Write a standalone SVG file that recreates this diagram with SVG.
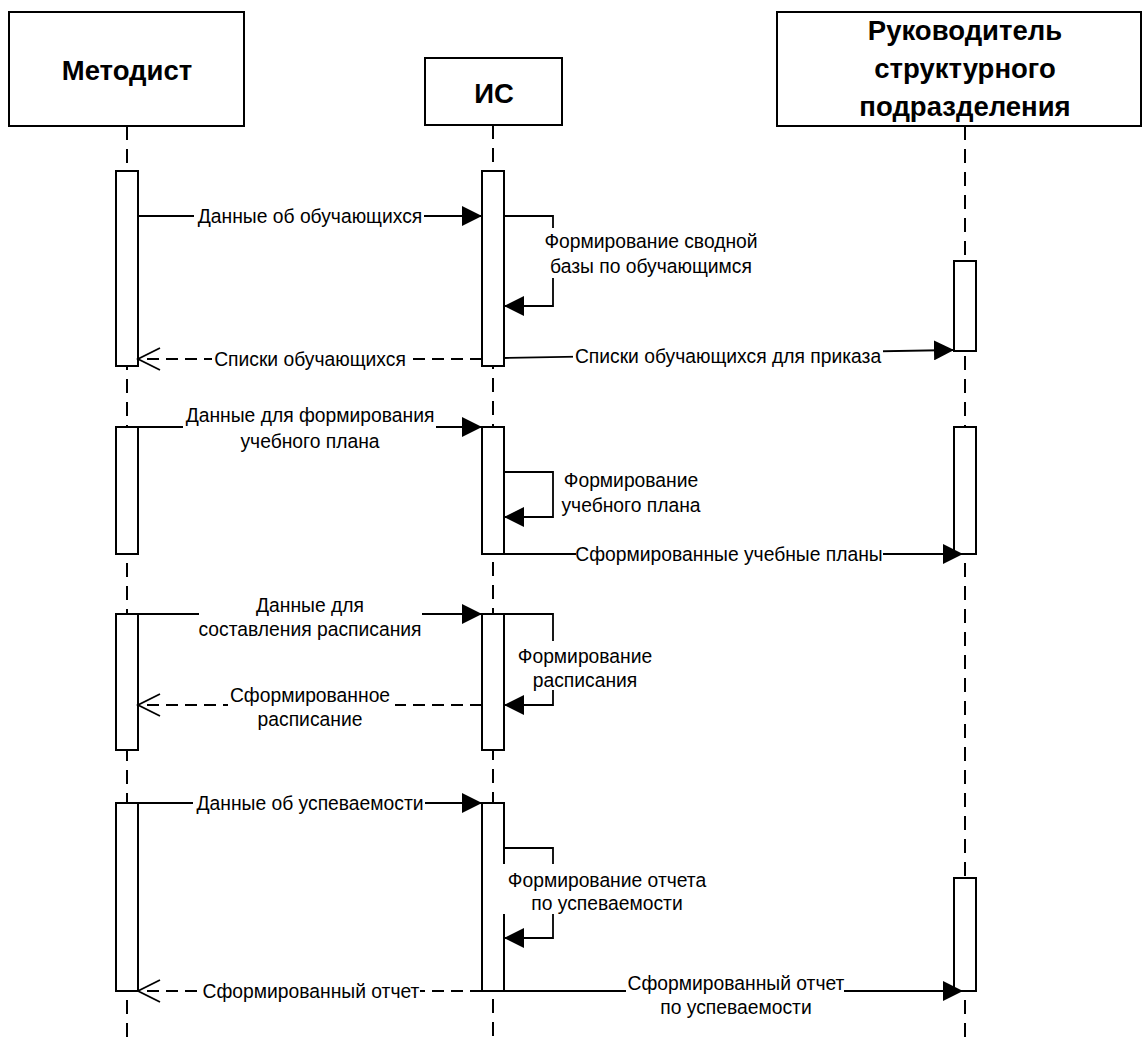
<svg xmlns="http://www.w3.org/2000/svg" width="1143" height="1039" viewBox="0 0 1143 1039">
<style>
.box{fill:#fff;stroke:#000;stroke-width:2}
.act{fill:#fff;stroke:#000;stroke-width:2}
.life{fill:none;stroke:#000;stroke-width:2;stroke-dasharray:14 9}
.msg{fill:none;stroke:#000;stroke-width:1.8;marker-end:url(#fa)}
.ret{fill:none;stroke:#000;stroke-width:1.8;stroke-dasharray:12 7;marker-end:url(#oa)}
.bg{fill:#fff;stroke:none}
.hd{font-family:"Liberation Sans",Arial,sans-serif;font-weight:bold;font-size:27.5px;text-anchor:middle;fill:#000}
.lb{font-family:"Liberation Sans",Arial,sans-serif;font-size:19.3px;text-anchor:middle;fill:#000}
</style>
<defs>
<marker id="fa" viewBox="0 0 20 20" refX="20" refY="10" markerWidth="20" markerHeight="20" markerUnits="userSpaceOnUse" orient="auto"><path d="M0,0 L20,10 L0,20 z" fill="#000"/></marker>
<marker id="oa" viewBox="-24 -13 26 26" refX="0" refY="0" markerWidth="26" markerHeight="26" markerUnits="userSpaceOnUse" orient="auto"><path d="M-22,-11 L0,0 L-22,11" fill="none" stroke="#000" stroke-width="1.8"/></marker>
</defs>
<rect width="1143" height="1039" fill="#fff"/>

<g id="metodist">
<line class="life" x1="127" y1="126" x2="127" y2="1039"/>
<rect class="box" x="9" y="12" width="235" height="114"/>
<text class="hd" x="127" y="80">Методист</text>
<rect class="act" x="116" y="171" width="22" height="195"/>
<rect class="act" x="116" y="427" width="22" height="127"/>
<rect class="act" x="116" y="614" width="22" height="136"/>
<rect class="act" x="116" y="803" width="22" height="188"/>
</g>

<g id="is">
<line class="life" x1="493" y1="125" x2="493" y2="1039"/>
<rect class="box" x="425" y="58" width="137" height="67"/>
<text class="hd" x="494" y="103">ИС</text>
<rect class="act" x="482" y="171" width="22" height="195"/>
<rect class="act" x="482" y="427" width="22" height="127"/>
<rect class="act" x="482" y="614" width="22" height="136"/>
<rect class="act" x="482" y="803" width="22" height="188"/>
</g>

<g id="rukovoditel">
<line class="life" x1="965" y1="126" x2="965" y2="1039"/>
<rect class="box" x="777" y="12" width="364" height="114"/>
<text class="hd" x="965" y="40">Руководитель</text>
<text class="hd" x="965" y="78">структурного</text>
<text class="hd" x="965" y="116">подразделения</text>
<rect class="act" x="954" y="261" width="22" height="90"/>
<rect class="act" x="954" y="427" width="22" height="127"/>
<rect class="act" x="954" y="878" width="22" height="113"/>
</g>

<g id="connectors">
<path class="msg" d="M138,216 H482"/>
<path class="msg" d="M504,216 H553 V306 H504"/>
<path class="ret" d="M482,359 H138"/>
<path class="msg" d="M504,358 L954,350"/>

<path class="msg" d="M138,427 H482"/>
<path class="msg" d="M504,472 H553 V517 H504"/>
<path class="msg" d="M504,554 H963"/>

<path class="msg" d="M138,614 H482"/>
<path class="msg" d="M504,614 H553 V705 H504"/>
<path class="ret" d="M482,705 H138"/>

<path class="msg" d="M138,803 H482"/>
<path class="msg" d="M504,848 H553 V938 H504"/>
<path class="ret" d="M482,991 H138"/>
<path class="msg" d="M504,991 H963"/>

<g id="labels">
<rect class="bg" x="194" y="206" width="230" height="20"/>
<text class="lb" x="310" y="223">Данные об обучающихся</text>

<rect class="bg" x="536" y="228" width="230" height="50"/>
<text class="lb" x="651" y="248">Формирование сводной</text>
<text class="lb" x="651" y="273">базы по обучающимся</text>

<rect class="bg" x="212" y="349" width="196" height="20"/>
<text class="lb" x="310" y="366">Списки обучающихся</text>

<rect class="bg" x="573" y="345" width="310" height="20"/>
<text class="lb" x="728" y="363">Списки обучающихся для приказа</text>

<rect class="bg" x="183" y="404" width="253" height="48"/>
<text class="lb" x="310" y="422">Данные для формирования</text>
<text class="lb" x="310" y="448">учебного плана</text>

<text class="lb" x="631" y="487">Формирование</text>
<text class="lb" x="631" y="512">учебного плана</text>

<rect class="bg" x="576" y="544" width="307" height="20"/>
<text class="lb" x="729" y="561">Сформированные учебные планы</text>

<rect class="bg" x="199" y="594" width="223" height="46"/>
<text class="lb" x="310" y="612">Данные для</text>
<text class="lb" x="310" y="636">составления расписания</text>

<rect class="bg" x="513" y="641" width="144" height="49"/>
<text class="lb" x="585" y="663">Формирование</text>
<text class="lb" x="585" y="687">расписания</text>

<rect class="bg" x="228" y="683" width="167" height="48"/>
<text class="lb" x="310" y="702">Сформированное</text>
<text class="lb" x="310" y="726">расписание</text>

<rect class="bg" x="193" y="793" width="232" height="20"/>
<text class="lb" x="310" y="810">Данные об успеваемости</text>

<rect class="bg" x="503" y="864" width="210" height="50"/>
<text class="lb" x="607" y="887">Формирование отчета</text>
<text class="lb" x="607" y="910">по успеваемости</text>

<rect class="bg" x="200" y="981" width="220" height="20"/>
<text class="lb" x="311" y="998">Сформированный отчет</text>

<rect class="bg" x="626" y="970" width="218" height="49"/>
<text class="lb" x="736" y="990">Сформированный отчет</text>
<text class="lb" x="736" y="1014">по успеваемости</text>
</g>
</g>
</svg>
